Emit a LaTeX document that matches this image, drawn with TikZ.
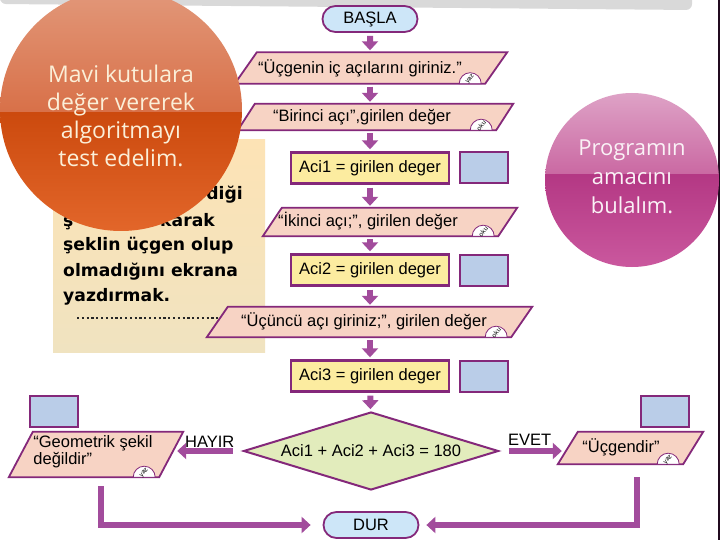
\documentclass[tikz,border=0pt]{standalone}
\usepackage{fontspec}
\setmainfont{Liberation Sans}
\newfontfamily\balonfont{Open Sans}
\newfontfamily\notfont{DejaVu Sans}
\usetikzlibrary{shapes.geometric,shapes.misc,arrows.meta,calc}

\definecolor{akis}{RGB}{162,76,156}
\definecolor{kenar}{RGB}{132,40,122}
\definecolor{giris}{RGB}{247,211,196}
\definecolor{islem}{RGB}{252,236,160}
\definecolor{deger}{RGB}{186,205,232}
\definecolor{uc}{RGB}{205,230,248}
\definecolor{karar}{RGB}{226,236,188}
\definecolor{bant}{RGB}{217,217,217}
\definecolor{kagit}{RGB}{253,227,181}
\definecolor{kagitalt}{RGB}{240,227,192}

% paralelkenar cerceve: #1 dugum, #2 yarim kayma
\newcommand{\ioframe}[2]{%
  \filldraw[ioline] ([xshift=-#2]#1.south west) -- ([xshift=#2]#1.north west)
      -- ([xshift=#2]#1.north east) -- ([xshift=-#2]#1.south east) -- cycle;}
% giris/cikis kutusunun kosesindeki etiket
\newcommand{\iotag}[3]{%
  \filldraw[iotag] ([xshift=-#2-4pt]#1.south east)
      arc[start angle=0, end angle=-180, radius=11] -- cycle;
  \node[tagtext] at ([xshift=-#2-15pt,yshift=4.5pt]#1.south east) {#3};}

\begin{document}
\begin{tikzpicture}[
    x=1pt, y=-1pt,
    >={Triangle[width=16pt,length=9pt]},
    every node/.style={font=\fontsize{16.5}{18}\selectfont},
    terminal/.style={
        rounded rectangle, draw=kenar, line width=1.8pt, fill=uc,
        minimum width=95pt, minimum height=26pt, inner sep=0pt
    },
    io/.style={rectangle, inner sep=0pt},
    ioline/.style={draw=kenar, line width=1.8pt, fill=giris},
    iotext/.style={inner sep=0.5pt},
    process/.style={
        rectangle, draw=kenar, line width=2.4pt, fill=islem,
        minimum width=158pt, minimum height=31pt, inner sep=0pt
    },
    valuebox/.style={
        rectangle, draw=kenar, line width=2pt, fill=deger,
        minimum width=48pt, minimum height=31pt, inner sep=0pt
    },
    decision/.style={
        diamond, aspect=3.27, draw=kenar, line width=2pt, fill=karar,
        minimum width=255pt, minimum height=78pt, inner sep=0pt
    },
    flow/.style={
        akis, line width=6pt, ->,
        shorten <=3pt, shorten >=2pt
    },
    iotag/.style={draw=kenar, line width=0.8pt, fill=white},
    tagtext/.style={font=\fontsize{6.5}{6.5}\selectfont, rotate=50, inner sep=0pt},
    balon/.style={align=center, font=\balonfont\fontsize{23}{28}\selectfont},
    nottext/.style={anchor=base west, inner sep=0pt,
        font=\notfont\bfseries\fontsize{17.2}{20}\selectfont}
]

\def\colx{370}

\useasboundingbox (0,0) rectangle (720,540);
\fill[white] (0,0) rectangle (720,540);

% ust bant ve sag kenar
\fill[bant, rounded corners=6pt] (0,-6) -- (692,-6) -- (692,10) -- (0,4) -- cycle;
\draw[line width=1.5pt, black!75!kenar] (719,0) -- (719,540);

% not kagidi
\shade[top color=kagit, bottom color=kagitalt] (53,140) rectangle (265,352);
\node[nottext, anchor=base east] (n1) at (243,200) {diği};
\node[nottext] (n2a) at (63,226) {ş};
\node[nottext, anchor=base east] (n2b) at (215,226) {karak};
\node[nottext] (n3) at (63,251) {şeklin üçgen olup};
\node[nottext] (n4) at (63,276) {olmadığını ekrana};
\node[nottext] (n5) at (63,301) {yazdırmak.};
\draw[line width=2.2pt, dash pattern=on 2.2pt off 2.6pt, black!85] (77,318) -- (250,318);

% akis semasi
\node[terminal] (start) at (\colx,19) {BAŞLA};

\node[io, minimum width=250pt, minimum height=31pt] (in1) at (371,68) {};
\ioframe{in1}{11pt}
\node[iotext] (in1text) at (360,68) {“Üçgenin iç açılarını giriniz.”};

\node[io, minimum width=258pt, minimum height=26pt] (in2) at (375.5,117) {};
\ioframe{in2}{8.5pt}
\node[iotext] (in2text) at (362,117) {“Birinci açı”,girilen değer};

\node[process] (set1) at (\colx,168) {Aci1 = girilen deger};
\node[valuebox] (val1) at (484,168) {};

\node[io, minimum width=235pt, minimum height=28pt] (in3) at (390,222) {};
\ioframe{in3}{9.5pt}
\node[iotext] (in3text) at (368,221) {“İkinci açı;”, girilen değer};

\node[process] (set2) at (\colx,270) {Aci2 = girilen deger};
\node[valuebox] (val2) at (484,270) {};

\node[io, minimum width=304pt, minimum height=30pt] (in4) at (369.5,322) {};
\ioframe{in4}{10.5pt}
\node[iotext] (in4text) at (364,321) {“Üçüncü açı giriniz;”, girilen değer};

\node[process] (set3) at (\colx,376) {Aci3 = girilen deger};
\node[valuebox] (val3) at (484,376) {};

\node[decision] (test) at (371,451) {Aci1 + Aci2 + Aci3 = 180};

\node[io, minimum width=125pt, minimum height=32pt] (out1) at (630.5,448) {};
\ioframe{out1}{10pt}
\node[iotext] (out1text) at (621,447) {“Üçgendir”};
\node[valuebox] (val4) at (665,411) {};

\node[io, minimum width=150pt, minimum height=45pt] (out2) at (96,454.5) {};
\ioframe{out2}{12pt}
\node[iotext, align=left, font=\fontsize{16.5}{17}\selectfont] (out2text) at (93,452)
    {“Geometrik şekil\\değildir”};
\node[valuebox] (val5) at (54,411) {};

\node[terminal] (stop) at (371,525) {DUR};

\iotag{in1}{11pt}{yaz}
\iotag{in2}{8.5pt}{oku}
\iotag{in3}{9.5pt}{oku}
\iotag{in4}{10.5pt}{oku}
\iotag{out1}{10pt}{yaz}
\iotag{out2}{12pt}{yaz}

% oklar
\draw[flow] (start) -- (start |- in1.north);
\draw[flow] (in1.south -| start) -- (in2.north -| start);
\draw[flow] (in2.south -| start) -- (set1);
\draw[flow] (set1) -- (set1 |- in3.north);
\draw[flow] (in3.south -| set1) -- (set2);
\draw[flow] (set2) -- (set2 |- in4.north);
\draw[flow] (in4.south -| set2) -- (set3);
\draw[flow] (set3) -- (test);
\draw[flow, shorten <=10pt, shorten >=6pt] (test.west) -- (test.west -| out2.east);
\draw[flow, shorten <=9pt, shorten >=6pt] (test.east) -- (test.east -| out1.west);
\node[anchor=base west, inner sep=0pt] (hayir) at (185,447) {HAYIR};
\node[anchor=base west, inner sep=0pt] (evet) at (508,445) {EVET};

\coordinate (leftdrop) at ([xshift=5pt,yshift=-9pt]out2.south);
\coordinate (rightdrop) at ([xshift=6pt,yshift=-13pt]out1.south);
\draw[flow, shorten <=0pt, shorten >=12pt] (leftdrop) |- (stop.west);
\draw[flow, shorten <=0pt, shorten >=7pt] (rightdrop) |- (stop.east);

% balonlar
\begin{scope}
    \clip (121,110) circle[radius=121];
    \shade[top color={rgb,255:red,226;green,152;blue,122},
           bottom color={rgb,255:red,216;green,112;blue,72}] (0,-11) rectangle (242,113);
    \shade[top color={rgb,255:red,204;green,74;blue,14},
           bottom color={rgb,255:red,226;green,102;blue,42}] (0,113) rectangle (242,231);
\end{scope}
\node[balon, text={rgb,255:red,251;green,239;blue,216}] (test-note) at (121,116)
    {Mavi kutulara\\değer vererek\\algoritmayı\\test edelim.};

\begin{scope}
    \clip (632,180) circle[radius=87];
    \shade[top color={rgb,255:red,222;green,162;blue,198},
           bottom color={rgb,255:red,202;green,104;blue,162}] (545,93) rectangle (719,175);
    \shade[top color={rgb,255:red,180;green,56;blue,132},
           bottom color={rgb,255:red,202;green,88;blue,158}] (545,175) rectangle (719,267);
\end{scope}
\node[balon, text={rgb,255:red,250;green,242;blue,246}, font=\balonfont\fontsize{22}{29}\selectfont]
    (aim-note) at (632,177) {Programın\\amacını\\bulalım.};

\end{tikzpicture}
\end{document}
